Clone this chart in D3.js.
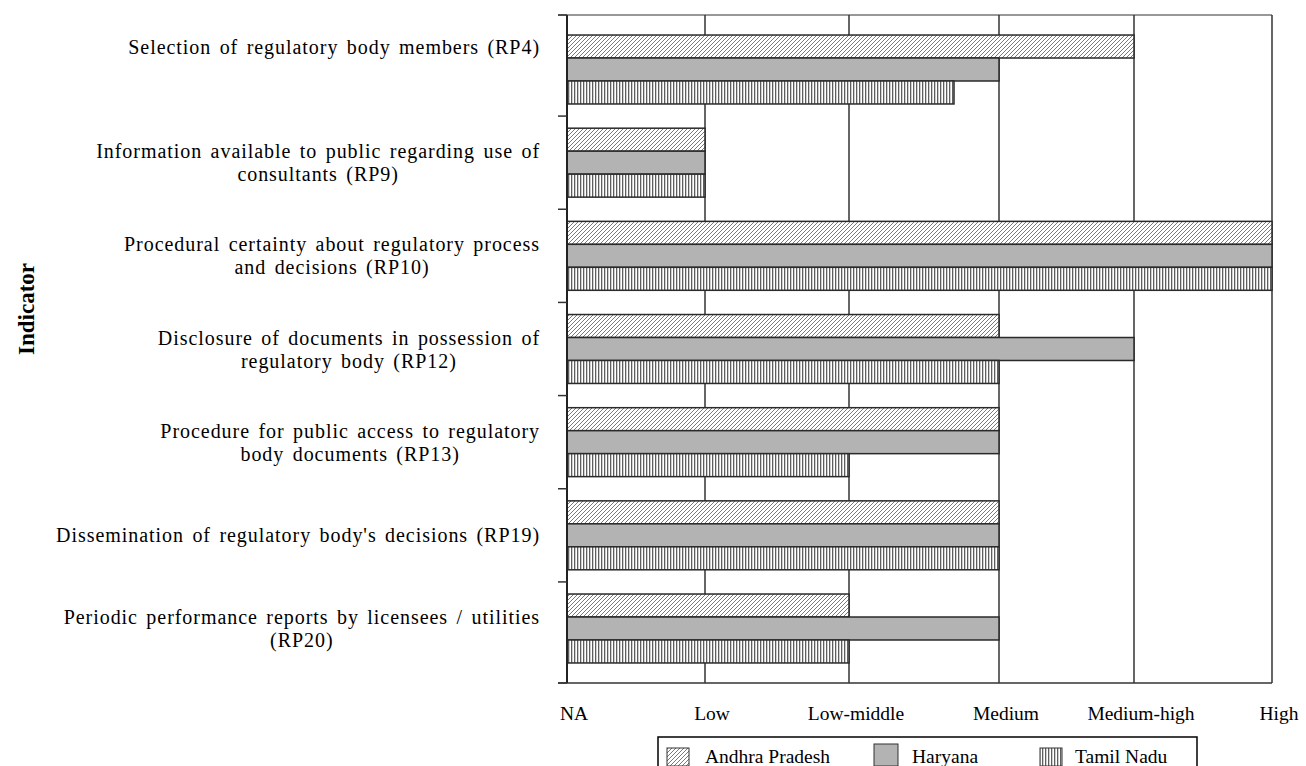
<!DOCTYPE html>
<html><head><meta charset="utf-8">
<script src="https://cdn.jsdelivr.net/npm/d3@7"></script>
<style>
body{margin:0;background:#fff}
text{font-family:"Liberation Serif","Times New Roman",serif;fill:#000}
</style>
</head><body>
<svg id="c" width="1306" height="766"></svg>
<script>
// ---- data ----
const categories = ["RP4","RP9","RP10","RP12","RP13","RP19","RP20"];
const categoryLabels = [
  ["Selection of regulatory body members (RP4)","",""],
  ["Information available to public regarding use of","consultants (RP9)"],
  ["Procedural certainty about regulatory process","and decisions (RP10)"],
  ["Disclosure of documents in possession of","regulatory body (RP12)"],
  ["Procedure for public access to regulatory","body documents (RP13)"],
  ["Dissemination of regulatory body's decisions (RP19)"],
  ["Periodic performance reports by licensees / utilities","(RP20)"]
];
const seriesNames = ["Andhra Pradesh","Haryana","Tamil Nadu"];
const andhraPradesh = [4,1,5,3,3,3,2];
const haryana       = [3,1,5,4,3,3,3];
const tamilNadu     = [2.7,1,5,3,2,3,2];
const levelLabels = ["NA","Low","Low-middle","Medium","Medium-high","High"];
const levelValues = [0,1,2,3,4,5];
const yAxisTitle = "Indicator";

(function(){
// ---- layout ----
const svg = d3.select("#c");
const pLeft = 567, pRight = 1272, pTop = 15, pBottom = 683;
const x = d3.scaleLinear().domain(levelValues).range([567,705,849,999,1134,1272]);
const y = d3.scaleBand().domain(categories).range([pTop,pBottom]).paddingInner(0.26).paddingOuter(0.215);
const ySub = d3.scaleBand().domain(seriesNames).range([0,y.bandwidth()]).padding(0);

const seriesData = [andhraPradesh, haryana, tamilNadu];
const fills = ["url(#diag)","#b3b3b3","url(#vert)"];

// patterns
const defs = svg.append("defs");
const pd = defs.append("pattern").attr("id","diag").attr("patternUnits","userSpaceOnUse").attr("width",4).attr("height",4);
pd.append("rect").attr("width",4).attr("height",4).attr("fill","#fff");
pd.append("path").attr("d","M-1,1 L1,-1 M0,4 L4,0 M3,5 L5,3").attr("stroke","#7a7a7a").attr("stroke-width",1);
const pv = defs.append("pattern").attr("id","vert").attr("patternUnits","userSpaceOnUse").attr("width",3).attr("height",3);
pv.append("rect").attr("width",3).attr("height",3).attr("fill","#fff");
pv.append("rect").attr("x",1).attr("width",1.3).attr("height",3).attr("fill","#5e5e5e");

// gridlines
svg.append("g").selectAll("line").data(levelValues.slice(1)).join("line")
  .attr("x1",d=>x(d)).attr("x2",d=>x(d)).attr("y1",pTop).attr("y2",pBottom)
  .attr("stroke","#000").attr("stroke-width",1.2);

// frame top/bottom
svg.append("line").attr("x1",558).attr("x2",pRight).attr("y1",pTop).attr("y2",pTop).attr("stroke","#333").attr("stroke-width",1.2);
svg.append("line").attr("x1",558).attr("x2",pRight).attr("y1",pBottom).attr("y2",pBottom).attr("stroke","#333").attr("stroke-width",1.5);

// bars
seriesData.forEach((vals,si)=>{
  svg.append("g").selectAll("rect").data(categories).join("rect")
    .attr("x",x(0))
    .attr("y",(c)=>y(c)+ySub(seriesNames[si]))
    .attr("width",(c,i)=>x(vals[i])-x(0))
    .attr("height",ySub.bandwidth())
    .attr("fill",fills[si])
    .attr("stroke","#2a2a2a").attr("stroke-width",1.5);
});

// y axis line and ticks (between category groups)
svg.append("line").attr("x1",pLeft).attr("x2",pLeft).attr("y1",pTop).attr("y2",pBottom).attr("stroke","#222").attr("stroke-width",2);
const gap = y.step()*y.paddingInner();
const boundaries = [pTop].concat(categories.slice(1).map(c=>y(c)-gap/2)).concat([pBottom]);
svg.append("g").selectAll("line").data(boundaries).join("line")
  .attr("x1",558).attr("x2",pLeft).attr("y1",d=>d).attr("y2",d=>d)
  .attr("stroke","#333").attr("stroke-width",1.5);

// x tick labels
svg.append("g").selectAll("text").data(levelValues).join("text")
  .attr("x",d=>x(d)).attr("dx",7).attr("y",720).attr("text-anchor","middle")
  .attr("font-size",19.5).text((d,i)=>levelLabels[i]);

// category labels
const fs = 20, lh = 23;
categories.forEach((c,ci)=>{
  const lines = categoryLabels[ci];
  const g = svg.append("g");
  const cy = y(c) + y.bandwidth()/2;
  const y0 = cy - (lines.length-1)*lh/2;
  const ts = lines.map((l,li)=> g.append("text").attr("font-size",fs).attr("letter-spacing","0.95px").attr("word-spacing","2.5px")
      .attr("y", y0 + li*lh + 7).attr("text-anchor","middle").text(l));
  const maxW = d3.max(ts, t=> t.node().getComputedTextLength());
  ts.forEach(t=>t.attr("x", 540 - maxW/2));
});

// y axis title
svg.append("text").attr("transform","translate(34,309) rotate(-90)")
  .attr("text-anchor","middle").attr("font-weight","bold").attr("font-size",23).text(yAxisTitle);

// legend
const lg = svg.append("g");
lg.append("rect").attr("x",658).attr("y",737).attr("width",539).attr("height",40)
  .attr("fill","#fff").attr("stroke","#000").attr("stroke-width",1.5);
const legPos = {"Andhra Pradesh":667,"Haryana":874,"Tamil Nadu":1040};
seriesNames.forEach((s,si)=>{
  const sx = legPos[s];
  lg.append("rect").attr("x",sx).attr("y",si===1?744:748).attr("width",si===1?24:22).attr("height",si===1?22:18)
    .attr("fill",fills[si]).attr("stroke","#333").attr("stroke-width",1);
  lg.append("text").attr("x",sx + (si===0?38:si===1?38:35)).attr("y",763).attr("font-size",19.5).text(s);
});
})();
</script>
</body></html>
